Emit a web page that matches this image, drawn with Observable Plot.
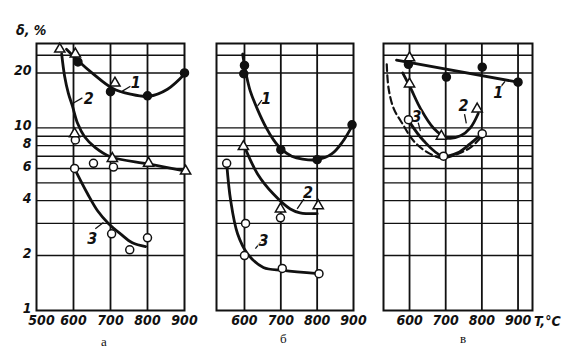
<!DOCTYPE html>
<html><head><meta charset="utf-8">
<script src="https://cdn.jsdelivr.net/npm/d3@7"></script>
<script src="https://cdn.jsdelivr.net/npm/@observablehq/plot@0.6"></script>
<style>
body{margin:0;background:#fff;}
#wrap{position:relative;width:575px;height:357px;background:#fff;overflow:hidden;}
.p{position:absolute;top:0;}
.t{position:absolute;font-family:"DejaVu Sans Condensed","Liberation Sans Narrow",sans-serif;font-style:italic;font-weight:bold;font-size:14px;color:#111;white-space:nowrap;}
.lab{position:absolute;font-family:"Liberation Serif","DejaVu Serif",serif;font-size:13px;color:#111;}
</style></head><body>
<div id="wrap"></div>
<script>
// ---- shared grid ----
const yGrid = [2,3,4,5,6,7,8,9,10,20,25];
const yTicks = [1,2,4,6,8,10,20];
const yDomain = [1,29];

// ---- panel а ----
const aXTicks = [500,600,700,800,900];
const aXGrid = [600,700,800];
const a1Curve = [[581,27],[614,23.2],[654,19.7],[705,16.5],[754,15.3],[803,14.9],[854,16.3],[903,20]];
const a2Curve = [[568,25.4],[576,19.2],[586,15.5],[597,13.2],[611,10.6],[630,8.95],[659,7.8],[700,6.95],[803,6.35],[903,5.8]];
const a3Curve = [[603,5.97],[638,4.36],[665,3.52],[695,2.99],[727,2.63],[759,2.35],[795,2.24]];
const aFilled = [[612,23],[700,15.8],[800,15],[900,20]];
const aTriangles = [[563,27],[605,25.4],[712,17.6],[603,9.3],[705,6.8],[803,6.4],[903,5.8]];
const aOpen = [[605,8.6],[654,6.4],[708,6.1],[603,6],[703,2.63],[752,2.15],[800,2.5]];
const aLabels = [{t:"1",x:768,y:17.6},{t:"2",x:641,y:14.4},{t:"3",x:651,y:2.47}];
const aLeaders = [[754,16.9,732,15.9],[624,14.6,600,13.7],[659,2.8,681,3.03]];

// ---- panel б ----
const bXTicks = [600,700,800,900];
const bXGrid = [600,700,800];
const b1Curve = [[595,25.4],[600,22],[605,19.5],[616,15.9],[636,12.6],[660,10],[680,8.6],[700,7.7],[730,7.0],[760,6.75],[800,6.7],[840,7.2],[870,8.4],[898,10.4]];
const b2Curve = [[600,7.9],[636,5.6],[679,4.36],[726,3.6],[753,3.43],[800,3.39]];
const b3Curve = [[551,6.4],[562,4.0],[581,2.63],[608,2.05],[652,1.72],[707,1.66],[803,1.59]];
const bFilled = [[600,22],[598,19.8],[700,7.6],[800,6.7],[896,10.4]];
const bTriangles = [[597,7.9],[699,3.6],[803,3.75]];
const bOpen = [[551,6.4],[603,3],[600,2],[699,3.22],[704,1.7],[805,1.59]];
const bLabels = [{t:"1",x:660,y:14.4},{t:"2",x:775,y:4.4},{t:"3",x:652,y:2.41}];
const bLeaders = [[648,14.2,636,13.2],[764,4.1,745,3.6],[644,2.36,630,2.18]];

// ---- panel в ----
const cXTicks = [600,700,800,900];
const cXGrid = [600,700,800,900];
const c1Line = [[564,23.5],[900,17.8]];
const c2Curve = [[581,20],[603,16.5],[630,12.8],[666,10],[705,8.8],[741,9.05],[768,10],[790,12]];
const c3Curve = [[597,11],[639,8.5],[691,7.0],[733,7.3],[768,8.2],[801,9.3]];
const cDashed = [[537,22.3],[542,16.5],[556,12.8],[581,10.5],[611,8.5],[652,7.3],[691,6.85],[733,7.2],[768,7.8],[796,8.8]];
const cFilled = [[597,22.3],[702,19],[801,21.5],[900,17.8]];
const cTriangles = [[600,24.2],[600,17.4],[688,9],[787,12.7]];
const cOpen = [[597,11.1],[694,7.0],[801,9.3]];
const cLabels = [{t:"1",x:845,y:15.5},{t:"2",x:749,y:13.2},{t:"3",x:619,y:11.5}];
const cLeaders = [[850,16.6,864,18],[752,11.9,757,10.6],[624,10.7,630,9.6]];

const FONT = "'DejaVu Sans Condensed','Liberation Sans Narrow',sans-serif";

function panel({width, ml, mr, xDomain, xTicks, xGrid, showY, curves, dashed, filled, tri, open, labels, leaders}) {
  const first = xTicks[0] === 500 ? [500] : [];
  const rest = xTicks.filter(t => !first.includes(t));
  const marks = [
    Plot.ruleY(yGrid, {stroke:"#111", strokeWidth:1.4}),
    Plot.ruleX(xGrid, {stroke:"#111", strokeWidth:1.8}),
    Plot.frame({stroke:"#111", strokeWidth:2}),
    Plot.axisX({ticks:rest, tickSize:0, tickPadding:5, tickFormat:d=>String(d), fontSize:14}),
  ];
  if (first.length) marks.push(Plot.axisX({ticks:first, tickSize:0, tickPadding:5, tickFormat:d=>String(d), fontSize:14, dx:5, label:null}));
  if (showY) marks.push(Plot.axisY({ticks:yTicks, tickSize:0, tickPadding:5, tickFormat:d=>String(d), fontSize:14, dy:-2}));
  else marks.push(Plot.axisY({ticks:[], tickSize:0, label:null}));
  for (const c of curves) marks.push(Plot.line(c.pts, {x:d=>d[0], y:d=>d[1], curve:c.curve||"catmull-rom", stroke:"#111", strokeWidth:2.8}));
  if (dashed) marks.push(Plot.line(dashed, {x:d=>d[0], y:d=>d[1], curve:"catmull-rom", stroke:"#111", strokeWidth:2.2, strokeDasharray:"7,4"}));
  marks.push(Plot.link(leaders, {x1:d=>d[0], y1:d=>d[1], x2:d=>d[2], y2:d=>d[3], stroke:"#111", strokeWidth:1.3}));
  marks.push(Plot.text(labels, {x:"x", y:"y", text:"t", fontSize:16, fontStyle:"italic", fontWeight:"bold", fill:"#111", stroke:"white", strokeWidth:1.5, paintOrder:"stroke"}));
  marks.push(Plot.dot(filled, {x:d=>d[0], y:d=>d[1], r:4, fill:"#111", stroke:"#111"}));
  marks.push(Plot.dot(open, {x:d=>d[0], y:d=>d[1], r:4, fill:"white", stroke:"#111", strokeWidth:1.5}));
  marks.push(Plot.dot(tri, {x:d=>d[0], y:d=>d[1], symbol:"triangle", r:3.8, fill:"white", stroke:"#111", strokeWidth:1.5}));
  return Plot.plot({
    width, height:340, marginLeft:ml, marginRight:mr, marginTop:43, marginBottom:30,
    x:{type:"linear", domain:xDomain, label:null},
    y:{type:"log", domain:yDomain, label:null},
    style:{fontFamily:FONT, fontStyle:"italic", fontWeight:"bold", fontSize:"14px", color:"#111", background:"transparent", overflow:"visible"},
    marks
  });
}

const wrap = document.getElementById("wrap");
function place(el, left) { const d=document.createElement("div"); d.className="p"; d.style.left=left+"px"; d.appendChild(el); wrap.appendChild(d); }

place(panel({width:200, ml:36, mr:16, xDomain:[500,900], xTicks:aXTicks, xGrid:aXGrid, showY:true,
  curves:[{pts:a1Curve},{pts:a2Curve},{pts:a3Curve}], filled:aFilled, tri:aTriangles, open:aOpen, labels:aLabels, leaders:aLeaders}), 0);
place(panel({width:170, ml:16, mr:17, xDomain:[523,900], xTicks:bXTicks, xGrid:bXGrid, showY:false,
  curves:[{pts:b1Curve},{pts:b2Curve},{pts:b3Curve}], filled:bFilled, tri:bTriangles, open:bOpen, labels:bLabels, leaders:bLeaders}), 200);
place(panel({width:205, ml:13, mr:43, xDomain:[528,940], xTicks:cXTicks, xGrid:cXGrid, showY:false,
  curves:[{pts:c1Line, curve:"linear"},{pts:c2Curve},{pts:c3Curve}], dashed:cDashed, filled:cFilled, tri:cTriangles, open:cOpen, labels:cLabels, leaders:cLeaders}), 370);

function txt(cls, s, left, top) { const d=document.createElement("div"); d.className=cls; d.textContent=s; d.style.left=left+"px"; d.style.top=top+"px"; wrap.appendChild(d); }
txt("t", "δ, %", 16, 22);
txt("t", "T,°C", 534, 313);
txt("lab", "а", 101, 334);
txt("lab", "б", 280, 331);
txt("lab", "в", 460, 331);
</script>
</body></html>
